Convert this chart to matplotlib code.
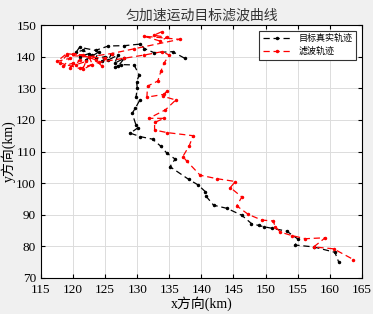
import numpy as np
import matplotlib
matplotlib.use("Agg")
import matplotlib.pyplot as plt

# =========================
# DATA
# =========================
true_x = [137.4, 135.5, 132.6, 131.1, 130.5, 128.0, 125.5, 123.5, 121.0, 120.5,
          121.5, 122.5, 121.0, 123.0, 122.0, 124.0, 123.5, 125.0, 124.5, 126.0,
          125.5, 127.0, 126.5, 128.0, 127.0, 126.6, 127.5, 129.5, 130.3, 129.9,
          130.0, 129.8, 130.4, 129.7, 129.2, 129.8, 130.1, 128.9, 130.5, 132.4,
          133.7, 134.6, 135.9, 135.1, 138.0, 139.5, 140.6, 140.7, 141.9, 144.0,
          146.3, 147.8, 148.9, 149.7, 151.0, 153.3, 155.1, 154.6, 157.5, 160.8,
          161.4]
true_y = [139.5, 141.6, 141.3, 142.6, 144.0, 143.5, 143.4, 142.0, 143.0, 141.5,
          142.0, 141.0, 140.0, 140.5, 139.0, 141.5, 139.5, 140.0, 138.5, 141.0,
          139.0, 140.5, 138.0, 139.5, 137.0, 136.8, 137.5, 137.4, 134.2, 132.1,
          130.0, 127.2, 126.3, 123.7, 122.1, 118.4, 117.5, 115.8, 114.7, 113.9,
          111.6, 109.5, 107.6, 105.2, 101.2, 99.4, 97.3, 95.9, 93.0, 92.0,
          89.8, 87.2, 86.6, 86.2, 85.7, 84.8, 82.2, 80.4, 79.8, 78.1,
          75.0]

filt_x = [133.8, 132.6, 134.7, 133.5, 131.0, 136.6, 129.5, 126.0, 122.5, 119.0,
          117.5, 119.5, 118.5, 120.0, 119.5, 121.0, 120.5, 122.0, 121.5, 123.0,
          122.5, 120.0, 121.5, 123.5, 124.5, 125.0, 119.0, 118.0, 121.0, 124.0,
          127.9, 131.0, 133.9, 135.0, 134.2, 133.7, 133.2, 131.6, 131.5, 134.2,
          134.7, 134.0, 136.0, 134.4, 131.8, 134.2, 132.7, 132.7, 134.6, 138.7,
          138.1, 137.1, 137.7, 139.8, 142.4, 145.3, 144.5, 146.3, 145.5, 147.3,
          149.4, 151.2, 151.5, 152.3, 154.1, 156.2, 159.3, 157.5, 160.6, 163.7]
filt_y = [147.9, 146.8, 146.1, 145.0, 146.5, 145.5, 142.5, 141.0, 140.0, 141.0,
          138.5, 139.5, 137.0, 138.0, 136.5, 139.0, 137.5, 138.5, 136.0, 137.5,
          140.0, 141.0, 140.5, 139.0, 137.0, 139.5, 140.5, 138.0, 136.3, 138.2,
          139.5, 140.5, 141.6, 140.5, 138.1, 135.5, 132.3, 130.7, 127.2, 128.1,
          129.3, 127.5, 126.3, 123.2, 120.5, 120.5, 119.2, 116.8, 116.0, 115.0,
          111.8, 108.4, 107.0, 102.5, 101.4, 100.5, 98.6, 95.6, 92.8, 90.1,
          88.3, 88.0, 86.2, 84.5, 83.4, 82.4, 82.7, 79.8, 79.2, 75.8]

x_ticks = [115, 120, 125, 130, 135, 140, 145, 150, 155, 160, 165]
y_ticks = [70, 80, 90, 100, 110, 120, 130, 140, 150]

CJK = ["Noto Sans CJK SC", "DejaVu Sans"]
SERIF = ["Liberation Serif", "Noto Sans CJK SC"]

# =========================
# PLOT
# =========================
fig = plt.figure(figsize=(3.73, 3.14), dpi=100, facecolor="#f0f0f0")
ax = fig.add_axes([0.110, 0.115, 0.860, 0.805])

ax.plot(true_x, true_y, "k--", marker=".", markersize=3, linewidth=0.9,
        dashes=(5, 3), label="目标真实轨迹")
ax.plot(filt_x, filt_y, "r--", marker=".", markersize=3, linewidth=0.9,
        dashes=(5, 3), label="滤波轨迹")

ax.set_xlim(115, 165)
ax.set_ylim(70, 150)
ax.set_xticks(x_ticks)
ax.set_yticks(y_ticks)
ax.grid(True, color="#dcdcdc", linewidth=0.7)
ax.set_axisbelow(True)
ax.tick_params(direction="in", length=3, top=True, right=True, labelsize=9.5)
ax.tick_params(axis="x", pad=4.5)
ax.tick_params(axis="y", pad=3.5)
for lab in ax.get_xticklabels() + ax.get_yticklabels():
    lab.set_family("Liberation Serif")
for s in ax.spines.values():
    s.set_linewidth(0.8)

ax.set_xlabel("x方向(km)", family=SERIF, fontsize=10, labelpad=0)
ax.set_ylabel("y方向(km)", family=SERIF, fontsize=10, labelpad=0)
ax.set_title("匀加速运动目标滤波曲线", family=CJK, fontsize=10,
             color="#333333", pad=4)

leg = ax.legend(loc="upper right", prop={"family": CJK, "size": 6.5},
                fancybox=False, edgecolor="#333333", framealpha=1,
                borderaxespad=0.6, handlelength=3.2, labelspacing=0.4)
leg.get_frame().set_linewidth(0.8)

plt.savefig("out.png", dpi=100, facecolor=fig.get_facecolor())
plt.close()
